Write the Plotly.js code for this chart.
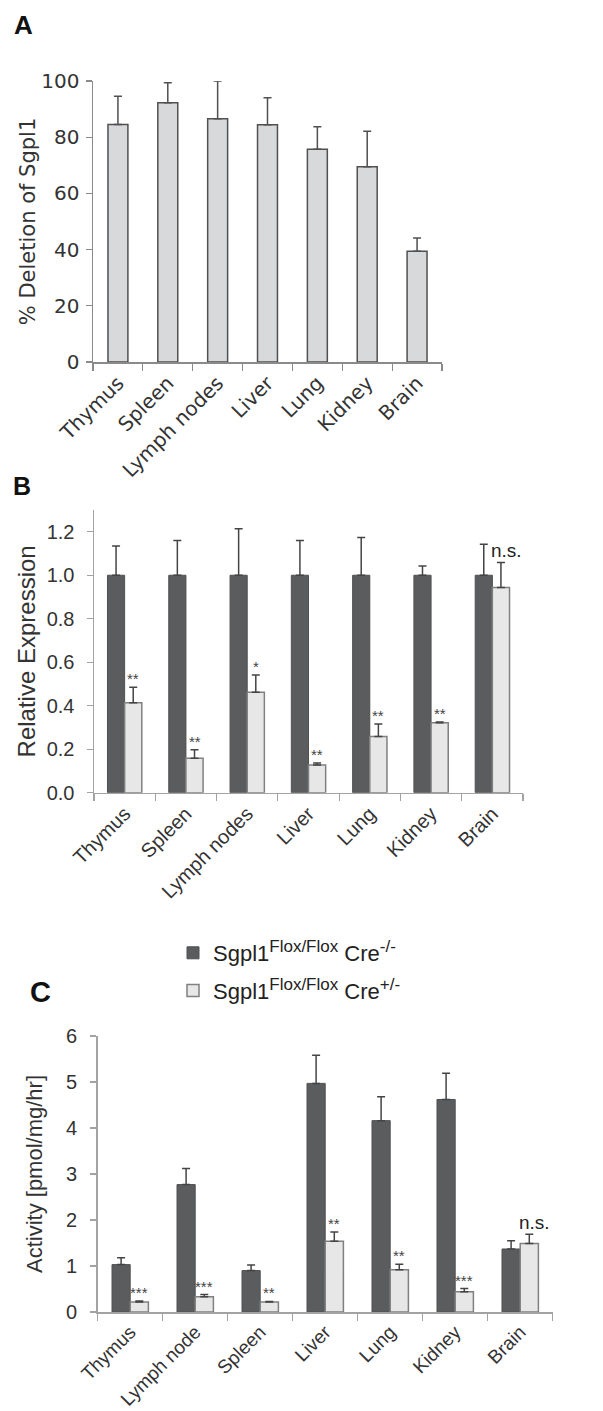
<!DOCTYPE html>
<html><head><meta charset="utf-8">
<script src="https://cdn.plot.ly/plotly-3.0.1.min.js"></script>
<style>html,body{margin:0;padding:0;background:#fff}#chart{width:603px;height:1411px}</style>
</head><body><div id="chart"></div>
<script>
// ---------- Data ----------
const tissuesA = ['Thymus', 'Spleen', 'Lymph nodes', 'Liver', 'Lung', 'Kidney', 'Brain'];
const deletionA = [84.5, 92.3, 86.6, 84.4, 75.7, 69.5, 39.4];
const deletionErrA = [10.1, 7.1, 13.4, 9.6, 8.0, 12.6, 4.7];

const tissuesB = ['Thymus', 'Spleen', 'Lymph nodes', 'Liver', 'Lung', 'Kidney', 'Brain'];
const exprCreNeg = [1.0, 1.0, 1.0, 1.0, 1.0, 1.0, 1.0];
const exprCreNegErr = [0.134, 0.160, 0.214, 0.160, 0.174, 0.042, 0.143];
const exprCrePos = [0.414, 0.158, 0.462, 0.127, 0.259, 0.322, 0.944];
const exprCrePosErr = [0.071, 0.040, 0.079, 0.010, 0.057, 0.003, 0.115];
const sigB = ['**', '**', '*', '**', '**', '**', 'n.s.'];

const tissuesC = ['Thymus', 'Lymph node', 'Spleen', 'Liver', 'Lung', 'Kidney', 'Brain'];
const actCreNeg = [1.03, 2.77, 0.90, 4.97, 4.16, 4.62, 1.37];
const actCreNegErr = [0.15, 0.35, 0.12, 0.61, 0.52, 0.57, 0.18];
const actCrePos = [0.22, 0.33, 0.22, 1.54, 0.92, 0.44, 1.49];
const actCrePosErr = [0.02, 0.05, 0.01, 0.20, 0.12, 0.07, 0.20];
const sigC = ['***', '***', '**', '**', '**', '***', 'n.s.'];

const supStyle = 'font-size:17px';
const legendNames = [
  'Sgpl1<sup><span style="' + supStyle + '">Flox/Flox</span></sup> Cre<sup><span style="' + supStyle + '">-/-</span></sup>',
  'Sgpl1<sup><span style="' + supStyle + '">Flox/Flox</span></sup> Cre<sup><span style="' + supStyle + '">+/-</span></sup>'
];
const yTitles = ['% Deletion of Sgpl1', 'Relative Expression', 'Activity [pmol/mg/hr]'];
const panelLabels = ['A', 'B', 'C'];

// ---------- Layout helpers ----------
const W = 603, H = 1411;
const fx = p => p / W;
const fy = p => 1 - p / H;
const zeros = n => new Array(n).fill(0);

const DARK = '#5b5c5e', LIGHT = '#e7e7e7', AXIS = '#a3a3a3';
const ARIAL = 'Arial, Liberation Sans, sans-serif';
const DEJA = 'DejaVu Sans, sans-serif';

function errY(arr, color, w) {
  return {type: 'data', symmetric: false, array: arr, arrayminus: zeros(arr.length),
          color: color, thickness: 1.5, width: w};
}

const traces = [
  {type: 'bar', x: tissuesA, y: deletionA, xaxis: 'x', yaxis: 'y', width: 0.4,
   marker: {color: '#d8d9db', line: {color: '#505050', width: 1.5}},
   error_y: errY(deletionErrA, '#505050', 4), showlegend: false, hoverinfo: 'skip'},

  {type: 'bar', x: tissuesB, y: exprCreNeg, xaxis: 'x2', yaxis: 'y2', width: 0.28, offset: -0.28,
   name: legendNames[0], legendgroup: 'g1',
   marker: {color: DARK, line: {color: '#505050', width: 1}},
   error_y: errY(exprCreNegErr, '#444', 4), hoverinfo: 'skip'},
  {type: 'bar', x: tissuesB, y: exprCrePos, xaxis: 'x2', yaxis: 'y2', width: 0.28, offset: 0,
   name: legendNames[1], legendgroup: 'g2',
   marker: {color: LIGHT, line: {color: '#808080', width: 1.5}},
   error_y: errY(exprCrePosErr, '#444', 4), hoverinfo: 'skip'},

  {type: 'bar', x: tissuesC, y: actCreNeg, xaxis: 'x3', yaxis: 'y3', width: 0.28, offset: -0.28,
   marker: {color: DARK, line: {color: '#505050', width: 1}}, showlegend: false,
   error_y: errY(actCreNegErr, '#444', 4), hoverinfo: 'skip'},
  {type: 'bar', x: tissuesC, y: actCrePos, xaxis: 'x3', yaxis: 'y3', width: 0.28, offset: 0,
   marker: {color: LIGHT, line: {color: '#808080', width: 1.5}}, showlegend: false,
   error_y: errY(actCrePosErr, '#444', 4), hoverinfo: 'skip'}
];

function xAxis(dom, anchor, fam, size, col) {
  return {domain: dom, anchor: anchor, type: 'category', range: [-0.5, 6.5],
    showline: true, linecolor: col, linewidth: 1.5, ticks: 'outside', tickson: 'boundaries',
    ticklen: 7, tickcolor: col, tickwidth: 1.2, tickangle: -45, showgrid: false, zeroline: false,
    tickfont: {family: fam, size: size, color: '#333'}, fixedrange: true};
}
function yAxis(dom, anchor, range, dtick, fmt, fam, size, title, tsize, standoff, tls, col) {
  return {domain: dom, anchor: anchor, range: range, dtick: dtick, tickformat: fmt,
    showline: true, linecolor: col, linewidth: 1.5, ticks: 'outside', ticklen: 6,
    tickcolor: col, tickwidth: 1.2, showgrid: false, zeroline: false,
    ticklabelstandoff: tls,
    tickfont: {family: fam, size: size, color: '#333'},
    title: {text: title, font: {family: fam, size: tsize, color: '#333'}, standoff: standoff},
    fixedrange: true};
}

const annotations = [];
// panel letters
[[12, 8, 26], [11, 470, 25], [28, 974, 29]].forEach((p, i) => {
  annotations.push({xref: 'paper', yref: 'paper', x: fx(p[0]), y: fy(p[1]), xanchor: 'left', yanchor: 'top',
    text: '<b>' + panelLabels[i] + '</b>', showarrow: false,
    font: {family: ARIAL, size: p[2], color: '#111'}});
});
// significance marks
function sig(marks, means, errs, xr, yr, starSize) {
  marks.forEach((m, i) => {
    const ns = m === 'n.s.';
    annotations.push({xref: xr, yref: yr, x: ns ? i : i + 0.14, y: means[i] + errs[i],
      xanchor: ns ? 'left' : 'center', yanchor: 'bottom', yshift: ns ? -1 : -2, xshift: ns ? -3 : 0,
      text: m, showarrow: false,
      font: {family: ARIAL, size: ns ? 19 : starSize, color: ns ? '#222' : '#444'}});
  });
}
sig(sigB, exprCrePos, exprCrePosErr, 'x2', 'y2', 15);
sig(sigC, actCrePos, actCrePosErr, 'x3', 'y3', 15);

const layout = {
  width: W, height: H, margin: {l: 0, r: 0, t: 0, b: 0},
  paper_bgcolor: '#fff', plot_bgcolor: '#fff', barmode: 'overlay',
  xaxis: xAxis([fx(93), fx(442)], 'y', DEJA, 20, '#8a8a8a'),
  yaxis: yAxis([fy(362), fy(81)], 'x', [0, 100], 20, '', DEJA, 20, yTitles[0], 21, 0, 2, '#8a8a8a'),
  xaxis2: xAxis([fx(94), fx(523)], 'y2', ARIAL, 20, AXIS),
  yaxis2: yAxis([fy(792.7), fy(510)], 'x2', [0, 1.3], 0.2, '.1f', ARIAL, 20, yTitles[1], 24, 4, 8, AXIS),
  xaxis3: xAxis([fx(97.7), fx(552.7)], 'y3', ARIAL, 19, AXIS),
  yaxis3: yAxis([fy(1312), fy(1036)], 'x3', [0, 6], 1, '', ARIAL, 20, yTitles[2], 22, 17, 9, AXIS),
  showlegend: true,
  legend: {x: fx(173), y: fy(932), xanchor: 'left', yanchor: 'top', bgcolor: 'rgba(0,0,0,0)',
    font: {family: ARIAL, size: 22, color: '#222'}, tracegroupgap: 6, itemwidth: 30},
  annotations: annotations
};

Plotly.newPlot('chart', traces, layout, {staticPlot: true, displayModeBar: false});
</script></body></html>
